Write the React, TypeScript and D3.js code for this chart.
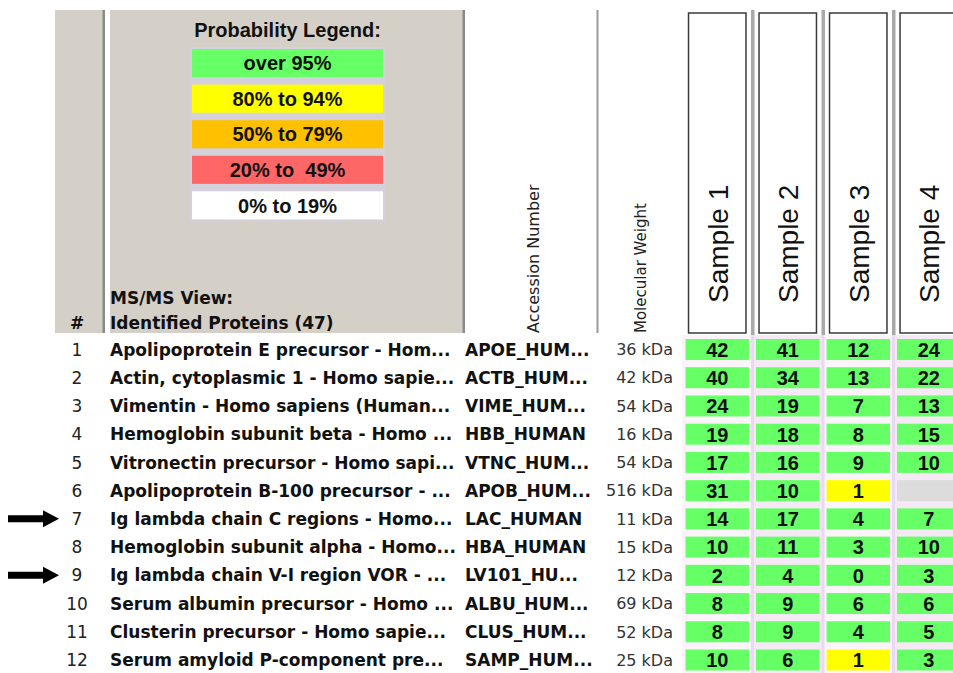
import * as d3 from "d3";

const rowIds = [1, 2, 3, 4, 5, 6, 7, 8, 9, 10, 11, 12];
const proteinNames = [
  "Apolipoprotein E precursor - Hom...",
  "Actin, cytoplasmic 1 - Homo sapie...",
  "Vimentin - Homo sapiens (Human...",
  "Hemoglobin subunit beta - Homo ...",
  "Vitronectin precursor - Homo sapi...",
  "Apolipoprotein B-100 precursor - ...",
  "Ig lambda chain C regions - Homo...",
  "Hemoglobin subunit alpha - Homo...",
  "Ig lambda chain V-I region VOR - ...",
  "Serum albumin precursor - Homo ...",
  "Clusterin precursor - Homo sapie...",
  "Serum amyloid P-component pre...",
];
const accessions = [
  "APOE_HUM...", "ACTB_HUM...", "VIME_HUM...", "HBB_HUMAN", "VTNC_HUM...", "APOB_HUM...",
  "LAC_HUMAN", "HBA_HUMAN", "LV101_HU...", "ALBU_HUM...", "CLUS_HUM...", "SAMP_HUM...",
];
const weights = ["36 kDa", "42 kDa", "54 kDa", "16 kDa", "54 kDa", "516 kDa", "11 kDa", "15 kDa", "12 kDa", "69 kDa", "52 kDa", "25 kDa"];

const samples = ["Sample 1", "Sample 2", "Sample 3", "Sample 4"];
const sample1 = [42, 40, 24, 19, 17, 31, 14, 10, 2, 8, 8, 10];
const sample2 = [41, 34, 19, 18, 16, 10, 17, 11, 4, 9, 9, 6];
const sample3 = [12, 13, 7, 8, 9, 1, 4, 3, 0, 6, 4, 1];
const sample4: (number | null)[] = [24, 22, 13, 15, 10, null, 7, 10, 3, 6, 5, 3];
// probability bucket per cell: 0 = over 95%, 1 = 80-94%
const prob1 = [0, 0, 0, 0, 0, 0, 0, 0, 0, 0, 0, 0];
const prob2 = [0, 0, 0, 0, 0, 0, 0, 0, 0, 0, 0, 0];
const prob3 = [0, 0, 0, 0, 0, 1, 0, 0, 0, 0, 0, 1];
const prob4 = [0, 0, 0, 0, 0, 0, 0, 0, 0, 0, 0, 0];

const legendLabels = ["over 95%", "80% to 94%", "50% to 79%", "20% to  49%", "0% to 19%"];
const legendColors = ["#66ff66", "#ffff00", "#ffc000", "#ff6666", "#ffffff"];

const markedRows = [7, 9];

const W = 953;
const H = 673;
const tahoma = "'DejaVu Sans', Verdana, sans-serif";
const arial = "'Liberation Sans', Arial, sans-serif";

export default function App() {
  const values = [sample1, sample2, sample3, sample4];
  const probs = [prob1, prob2, prob3, prob4];

  const y = d3.scalePoint<number>().domain(rowIds).range([349.5, 660]);
  const x = d3.scaleBand<string>().domain(samples).range([682, 964]).paddingInner(0.1).paddingOuter(0.05);
  const step = x.step();
  const bw = x.bandwidth();
  const cellH = 21;

  const ly = d3.scaleBand<string>().domain(legendLabels).range([45.5, 223]).paddingInner(0.21).paddingOuter(0.1);

  const color = (p: number, v: number | null) => (v === null ? "#dcdcdc" : legendColors[p]);

  return (
    <svg width={W} height={H} style={{ position: "absolute", left: 0, top: 0, background: "#fff" }}>
      <defs>
        <clipPath id="nameClip">
          <rect x={105} y={330} width={358} height={343} />
        </clipPath>
      </defs>

      {/* header panels */}
      <rect x={55} y={10} width={50} height={323} fill="#d4d0c8" />
      <rect x={102.5} y={10} width={2.5} height={323} fill="#8a8a8a" />
      <rect x={110} y={10} width={355} height={323} fill="#d4d0c8" />
      <rect x={462.5} y={10} width={2.5} height={323} fill="#8a8a8a" />

      {/* legend */}
      <text x={287.5} y={37} textAnchor="middle" fontFamily={arial} fontWeight="bold" fontSize={20} fill="#111">
        Probability Legend:
      </text>
      <rect x={190} y={47} width={195} height={174} fill="#d5d1dc" />
      {legendLabels.map((l, i) => (
        <g key={l}>
          <rect x={192} y={ly(l)} width={191} height={ly.bandwidth()} fill={legendColors[i]} />
          <text
            x={287.5}
            y={(ly(l) ?? 0) + ly.bandwidth() / 2}
            dy="0.36em"
            textAnchor="middle"
            fontFamily={arial}
            fontWeight="bold"
            fontSize={20}
            fill="#111"
            style={{ whiteSpace: "pre" }}
          >
            {l}
          </text>
        </g>
      ))}

      <text x={110} y={304} fontFamily={tahoma} fontWeight="bold" fontSize={17} fill="#111">MS/MS View:</text>
      <text x={110} y={329} fontFamily={tahoma} fontWeight="bold" fontSize={17} fill="#111">Identified Proteins (47)</text>
      <text x={77} y={329} textAnchor="middle" fontFamily={tahoma} fontWeight="bold" fontSize={17} fill="#111">#</text>

      {/* rotated column titles */}
      <text transform="translate(539,333) rotate(-90)" fontFamily={tahoma} fontSize={16} fill="#222">Accession Number</text>
      <rect x={596.5} y={10} width={2} height={323} fill="#9a9a9a" />
      <text transform="translate(646,333) rotate(-90)" fontFamily={tahoma} fontSize={15} fill="#222">Molecular Weight</text>

      {/* data area backgrounds */}
      {samples.map((s, i) => (
        <rect key={"bg" + s} x={(x(s) ?? 0) - step * 0.05} y={335} width={step} height={H - 335}
          fill={i % 2 === 1 ? "#f6e9f6" : "#fbf4fb"} />
      ))}
      {samples.slice(1).map((s) => (
        <rect key={"div" + s} x={(x(s) ?? 0) - step * 0.05 - 1.5} y={10} width={3.5} height={325} fill="#a8a8a8" />
      ))}
      {samples.slice(1).map((s) => (
        <rect key={"ldiv" + s} x={(x(s) ?? 0) - step * 0.05 - 1.5} y={335} width={3} height={H - 335} fill="#eadaf0" />
      ))}

      {/* sample headers */}
      {samples.map((s) => (
        <g key={s}>
          <rect x={(x(s) ?? 0) + 3} y={13} width={bw - 6} height={320} fill="#fff" stroke="#3a3a3a" strokeWidth={1.5} />
          <text
            transform={`translate(${(x(s) ?? 0) + bw / 2 + 1},303) rotate(-90)`}
            dy="0.33em"
            fontFamily={arial}
            fontSize={28}
            fill="#111"
          >
            {s}
          </text>
        </g>
      ))}

      {/* rows */}
      {rowIds.map((id, r) => {
        const cy = y(id) ?? 0;
        return (
          <g key={id}>
            <text x={77} y={cy} dy="0.36em" textAnchor="middle" fontFamily={tahoma} fontSize={17} fill="#222">{id}</text>
            <text x={110} y={cy} dy="0.36em" fontFamily={tahoma} fontWeight="bold" fontSize={17} fill="#111" clipPath="url(#nameClip)">
              {proteinNames[r]}
            </text>
            <text x={465} y={cy} dy="0.36em" fontFamily={tahoma} fontWeight="bold" fontSize={17} fill="#111">{accessions[r]}</text>
            <text x={673} y={cy} dy="0.36em" textAnchor="end" fontFamily={tahoma} fontSize={16} fill="#333">{weights[r]}</text>
            {samples.map((s, c) => {
              const v = values[c][r];
              return (
                <g key={s}>
                  <rect x={x(s)} y={cy - cellH / 2} width={bw} height={cellH} fill={color(probs[c][r], v)} />
                  {v !== null && (
                    <text x={(x(s) ?? 0) + bw / 2} y={cy} dy="0.37em" textAnchor="middle" fontFamily={arial}
                      fontWeight="bold" fontSize={20} fill="#111">
                      {v}
                    </text>
                  )}
                </g>
              );
            })}
          </g>
        );
      })}

      {/* arrows */}
      {markedRows.map((id) => {
        const cy = y(id) ?? 0;
        const path = d3.path();
        path.moveTo(8, cy - 3.5);
        path.lineTo(43, cy - 3.5);
        path.lineTo(43, cy - 8.5);
        path.lineTo(59, cy);
        path.lineTo(43, cy + 8.5);
        path.lineTo(43, cy + 3.5);
        path.lineTo(8, cy + 3.5);
        path.closePath();
        return <path key={"arrow" + id} d={path.toString()} fill="#000" />;
      })}
    </svg>
  );
}
